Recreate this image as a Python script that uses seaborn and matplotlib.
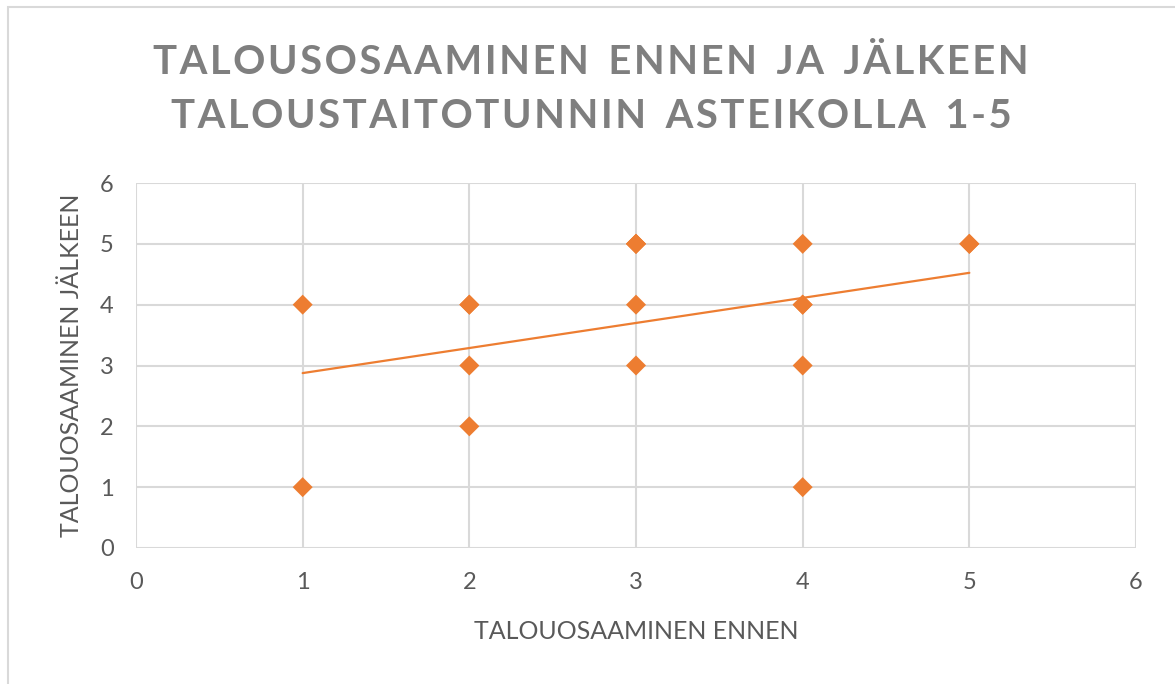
import numpy as np
import pandas as pd
import seaborn as sns
import matplotlib.pyplot as plt
from matplotlib.patches import Rectangle

# Talousosaaminen ennen / jälkeen (asteikko 1-5), toistuvat vastaukset mukana
ennen = [1, 1, 2, 2, 2, 2, 3, 3, 3, 3, 3, 4, 4, 4, 4, 4, 5, 5]
jalkeen = [4, 1, 4, 4, 3, 2, 5, 5, 5, 4, 3, 5, 4, 4, 3, 1, 5, 5]
ticks = [0, 1, 2, 3, 4, 5, 6]

otsikko_rivit = ["TALOUSOSAAMINEN ENNEN JA JÄLKEEN",
                 "TALOUSTAITOTUNNIN ASTEIKOLLA 1-5"]
x_nimi = "TALOUOSAAMINEN ENNEN"
y_nimi = "TALOUOSAAMINEN JÄLKEEN"

df = pd.DataFrame({"ennen": ennen, "jalkeen": jalkeen})

sns.set_style("white")
plt.rcParams["font.family"] = ["Lato", "DejaVu Sans"]

oranssi = "#ED7D31"
harmaa = "#595959"
ruudukko = "#D9D9D9"

fig = plt.figure(figsize=(11.75, 6.84), dpi=100)
ax = fig.add_axes([136 / 1175, 1 - 548 / 684, 1000 / 1175, 365 / 684])

sns.scatterplot(data=df, x="ennen", y="jalkeen", marker="D", s=104,
                color=oranssi, edgecolor="none", ax=ax, zorder=3)
sns.regplot(data=df, x="ennen", y="jalkeen", scatter=False, ci=None,
            truncate=True, color=oranssi, line_kws={"lw": 1.6, "zorder": 2}, ax=ax)

ax.set_xlim(0, 6)
ax.set_ylim(0, 6)
ax.set_xticks(ticks)
ax.set_yticks(ticks)
ax.grid(True, color=ruudukko, lw=1.5, zorder=0)
ax.set_axisbelow(True)
for s in ax.spines.values():
    s.set_visible(False)
ax.tick_params(axis="x", length=0, labelsize=17, labelcolor=harmaa, pad=17)
ax.tick_params(axis="y", length=0, labelsize=17, labelcolor=harmaa, pad=16)

ax.set_xlabel(x_nimi, fontsize=18, color=harmaa, labelpad=20)
ax.set_ylabel(y_nimi, fontsize=18, color=harmaa, labelpad=12)

# otsikko harvennetulla kirjainvälillä
harva = "\u200a"
for i, rivi in enumerate(otsikko_rivit):
    teksti = harva.join(rivi).replace(harva + " " + harva, "  ")
    fig.text(0.503, 1 - (62 + 55 * i) / 684, teksti, ha="center", va="center",
             fontsize=28.8, fontweight="bold", color="#7F7F7F")

# kaavion reunaviiva
fig.patches.append(Rectangle((8 / 1175, -0.1), 1.2, 1.1 - 6.5 / 684,
                             transform=fig.transFigure, fill=False,
                             edgecolor=ruudukko, lw=1.5))

fig.savefig("out.png", dpi=100)
